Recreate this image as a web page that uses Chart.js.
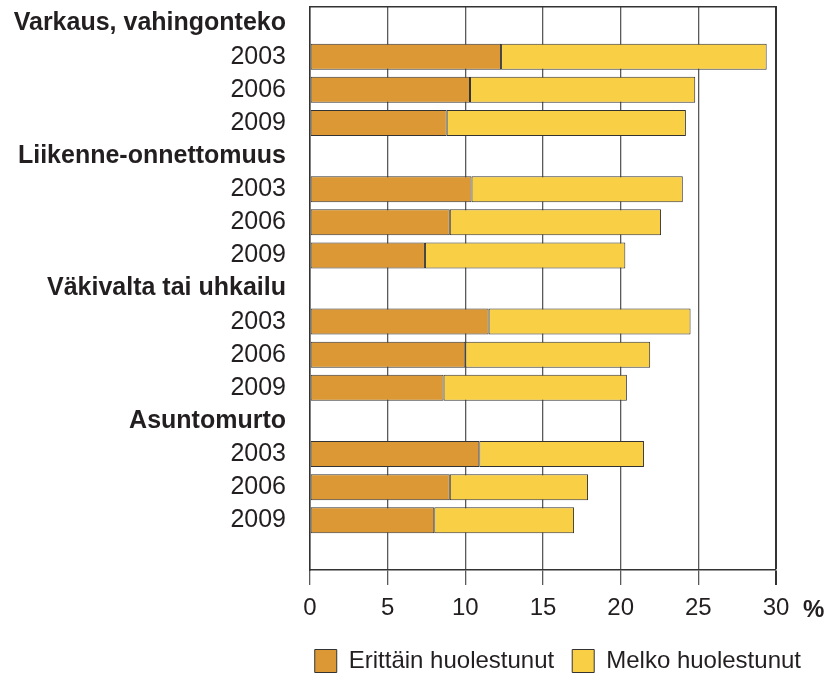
<!DOCTYPE html>
<html>
<head>
<meta charset="utf-8">
<script src="https://cdn.jsdelivr.net/npm/chart.js@4/dist/chart.umd.min.js"></script>
<style>
  html, body { margin: 0; padding: 0; background: #fff; }
  #wrap { width: 829px; height: 675px; }
</style>
</head>
<body>
<div id="wrap"><canvas id="c" width="829" height="675"></canvas></div>
<script>
// ---- data ----
const groups = ['Varkaus, vahingonteko', 'Liikenne-onnettomuus', 'Väkivalta tai uhkailu', 'Asuntomurto'];
const years = ['2003', '2006', '2009'];
const seriesNames = ['Erittäin huolestunut', 'Melko huolestunut'];
// values per group, in year order
const erittain = [
  [12.3, 10.3, 8.8],
  [10.4, 9.0, 7.4],
  [11.5, 10.0, 8.6],
  [10.9, 9.0, 8.0]
];
const melko = [
  [17.1, 14.5, 15.4],
  [13.6, 13.6, 12.9],
  [13.0, 11.9, 11.8],
  [10.6, 8.9, 9.0]
];
const xTicks = [0, 5, 10, 15, 20, 25, 30];
const unitLabel = '%';

// ---- build table for the library ----
const labels = [];
const isHeader = [];
const dataE = [];
const dataM = [];
groups.forEach((g, gi) => {
  labels.push(g); isHeader.push(true); dataE.push(null); dataM.push(null);
  years.forEach((y, yi) => {
    labels.push(y); isHeader.push(false);
    dataE.push(erittain[gi][yi]); dataM.push(melko[gi][yi]);
  });
});
labels.push(''); isHeader.push(false); dataE.push(null); dataM.push(null);

const FONT = 'Liberation Sans, Arial, Helvetica, sans-serif';
const TXT = '#231f20';

const unitPlugin = {
  id: 'unitLabel',
  afterDraw(chart) {
    const xs = chart.scales.x;
    const ctx = chart.ctx;
    ctx.save();
    ctx.font = 'bold 24px ' + FONT;
    ctx.fillStyle = TXT;
    ctx.textAlign = 'left';
    ctx.textBaseline = 'alphabetic';
    ctx.fillText(unitLabel, xs.getPixelForValue(xTicks[xTicks.length - 1]) + 27, 617);
    ctx.restore();
  }
};

new Chart(document.getElementById('c'), {
  type: 'bar',
  data: {
    labels: labels,
    datasets: [
      {
        label: seriesNames[0],
        data: dataE,
        backgroundColor: '#DB9834',
        borderColor: '#333333',
        borderWidth: 1,
        borderSkipped: false,
        categoryPercentage: 1,
        barPercentage: 0.785
      },
      {
        label: seriesNames[1],
        data: dataM,
        backgroundColor: '#F9CF45',
        borderColor: '#333333',
        borderWidth: 1,
        borderSkipped: false,
        categoryPercentage: 1,
        barPercentage: 0.785
      }
    ]
  },
  options: {
    indexAxis: 'y',
    responsive: false,
    animation: false,
    layout: { padding: { top: 7, right: 10, bottom: -8, left: 0 } },
    plugins: {
      tooltip: { enabled: false },
      legend: {
        position: 'bottom',
        align: 'end',
        labels: {
          boxWidth: 22,
          boxHeight: 23,
          padding: 18,
          color: TXT,
          font: { family: FONT, size: 24 }
        }
      }
    },
    scales: {
      x: {
        type: 'linear',
        stacked: true,
        min: 0,
        max: 30,
        afterBuildTicks: (s) => { s.ticks = xTicks.map(v => ({ value: v })); },
        afterFit: (s) => { s.height = 61; s.paddingLeft = 0; s.paddingRight = 0; },
        grid: {
          display: true,
          drawTicks: true,
          tickLength: 15,
          color: (c) => (c.index === xTicks.length - 1 ? '#333' : '#5a5a5a'),
          lineWidth: (c) => (c.index === xTicks.length - 1 ? 2 : 1.3)
        },
        border: { display: true, color: '#333', width: 1.5 },
        ticks: {
          color: TXT,
          padding: 9,
          maxRotation: 0,
          font: { family: FONT, size: 24 }
        }
      },
      xTop: {
        type: 'linear',
        position: 'top',
        min: 0,
        max: 30,
        afterFit: (s) => { s.height = 0; s.paddingLeft = 0; s.paddingRight = 0; },
        grid: { display: false },
        ticks: { display: false },
        border: { display: true, color: '#333', width: 1.5 }
      },
      y: {
        stacked: true,
        afterFit: (s) => { s.width = 310; s.paddingTop = 0; s.paddingBottom = 0; },
        grid: { display: false, drawTicks: false },
        border: { display: true, color: '#333', width: 1.5 },
        ticks: {
          autoSkip: false,
          padding: 24,
          color: TXT,
          font: (c) => ({ family: FONT, size: 25, weight: isHeader[c.index] ? 'bold' : 'normal' })
        }
      },
      yRight: {
        type: 'linear',
        position: 'right',
        afterFit: (s) => { s.width = 43; s.paddingTop = 0; s.paddingBottom = 0; },
        grid: { display: false, drawTicks: false },
        ticks: { display: false },
        border: { display: false }
      }
    }
  },
  plugins: [unitPlugin]
});
</script>
</body>
</html>
